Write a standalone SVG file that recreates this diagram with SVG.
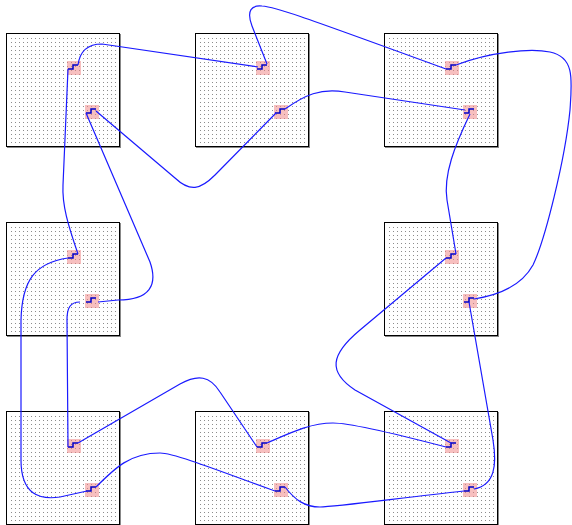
<svg xmlns="http://www.w3.org/2000/svg" width="572" height="525" viewBox="0 0 572 525">
<style>
.frame{fill:#fff;stroke:#000;stroke-width:1}
.shadow{fill:none;stroke:#888;stroke-width:1}
.port{fill:#f08080;fill-opacity:0.5}
.w{fill:none;stroke:#1a1aff;stroke-width:1.2}
.jog{fill:none;stroke:#0000c8;stroke-width:1.5}
</style>
<defs>
<pattern id="dots" patternUnits="userSpaceOnUse" x="1" y="1" width="4" height="4">
<rect x="0" y="0" width="1" height="1" fill="#8c8c8c"/>
</pattern>
<g id="cell">
<rect class="shadow" x="1.5" y="1.5" width="113" height="113"/>
<rect class="frame" x="0.5" y="0.5" width="113" height="113"/>
<rect x="4" y="4" width="106" height="106" fill="url(#dots)"/>
<rect class="port" x="61" y="28" width="14" height="14"/>
<rect class="port" x="79" y="72" width="14" height="14"/>
<path class="jog" d="M62,36 h5 v-4 h5 M80,80 h5 v-4 h5"/>
</g>
</defs>
<rect width="572" height="525" fill="#fff"/>
<g id="n11" transform="translate(6,33)"><use href="#cell"/></g>
<g id="n12" transform="translate(195,33)"><use href="#cell"/></g>
<g id="n13" transform="translate(384,33)"><use href="#cell"/></g>
<g id="n21" transform="translate(6,222)"><use href="#cell"/></g>
<g id="n23" transform="translate(384,222)"><use href="#cell"/></g>
<g id="n31" transform="translate(6,411)"><use href="#cell"/></g>
<g id="n32" transform="translate(195,411)"><use href="#cell"/></g>
<g id="n33" transform="translate(384,411)"><use href="#cell"/></g>
<g id="connectors">
<path class="w" d="M78,65 C80,50 88,44 102,44 L258,67"/>
<path class="w" d="M68,69 L63,185 C62,205 68,225 78,254"/>
<path class="w" d="M96,111 L175,178 C190,192 200,190 215,175 L276,113"/>
<path class="w" d="M86,113 L150,262 C158,285 150,300 118,300 L98,302"/>
<path class="w" d="M267,64 L252,26 C246,10 252,5 262,6 C275,7 290,12 446,69"/>
<path class="w" d="M285,109 C305,95 320,88 345,92 L465,110"/>
<path class="w" d="M456,65 C490,52 530,48 550,52 C575,57 572,80 570,110 C565,160 545,240 533,265 C522,285 500,295 474,299"/>
<path class="w" d="M470,114 C455,145 443,175 447,200 L456,254"/>
<path class="w" d="M446,258 L360,330 C330,355 328,372 355,390 L451,443"/>
<path class="w" d="M469,302 L493,440 C497,465 495,485 474,489"/>
<path class="w" d="M68,258 C35,263 22,280 21,320 L21,460 C21,495 40,500 60,497 L87,491"/>
<path class="w" d="M80,302 C70,302 67,308 67,320 L68,447"/>
<path class="w" d="M78,443 L180,384 C198,374 210,376 220,392 L257,447"/>
<path class="w" d="M96,487 C115,468 130,453 160,453 C175,453 230,475 275,491"/>
<path class="w" d="M267,443 C290,433 310,423 333,423 C350,423 400,435 446,447"/>
<path class="w" d="M285,487 C295,500 305,507 320,507 C335,507 400,498 464,491"/>
</g>
</svg>
